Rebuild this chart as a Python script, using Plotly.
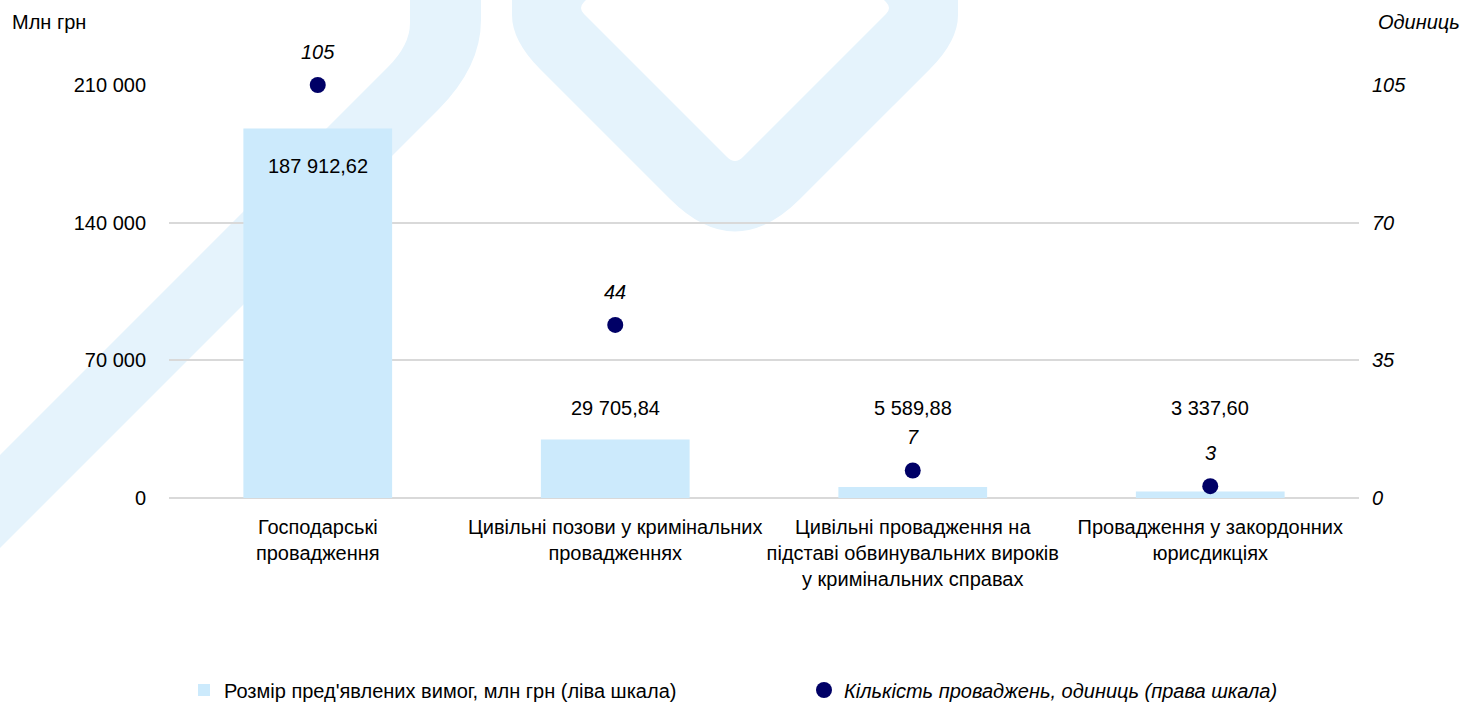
import plotly.graph_objects as go

# ---------------- data ----------------
categories = [
    "Господарські<br>провадження",
    "Цивільні позови у кримінальних<br>провадженнях",
    "Цивільні провадження на<br>підставі обвинувальних вироків<br>у кримінальних справах",
    "Провадження у закордонних<br>юрисдикціях",
]
claims_mln = [187912.62, 29705.84, 5589.88, 3337.60]
claims_labels = ["187 912,62", "29 705,84", "5 589,88", "3 337,60"]
counts = [105, 44, 7, 3]
left_ticks = [0, 70000, 140000, 210000]
right_ticks = [0, 35, 70, 105]
bar_name = "Розмір пред'явлених вимог, млн грн (ліва шкала)"
dot_name = "<i>Кількість проваджень, одиниць (права шкала)</i>"

# label placement (layout, not data)
claims_label_y = [169000, 45800, 45800, 45800]

# ---------------- style ----------------
W, H = 1469, 707
ML, MR, MT, MB = 169, 110, 85, 209
PW, PH = W - ML - MR, H - MT - MB
FONT = "Liberation Sans, Arial, sans-serif"
FS = 20
BAR_COLOR = "#CCEAFC"
DOT_COLOR = "#000066"
WM_COLOR = "#E5F3FC"
GRID = "#D9D9D9"


def px_x(x):
    return (x - ML) / PW


def px_y(y):
    return (MT + PH - y) / PH


def px_path(cmds):
    """Build a paper-referenced SVG path from pixel coordinates (decoration)."""
    out = []
    for c in cmds:
        letter, pts = c[0], c[1:]
        coords = [f"{px_x(x):.5f},{px_y(y):.5f}" for (x, y) in pts]
        out.append(letter + " " + " ".join(coords))
    return " ".join(out) + " Z"


# watermark shapes (background decoration)
band = px_path([
    ("M", (-100, 555)), ("L", (388, 67)), ("Q", (410, 45), (410, 23)),
    ("L", (410, -10)), ("L", (481, -10)), ("L", (481, 20)),
    ("Q", (481, 67), (438, 110)), ("L", (-100, 648)),
])
v_outer = px_path([
    ("M", (512, -10)), ("L", (512, 15)), ("Q", (512, 41), (540, 69)),
    ("L", (670, 199)), ("Q", (735, 264), (800, 199)), ("L", (930, 69)),
    ("Q", (958, 41), (958, 15)), ("L", (958, -10)),
])
v_inner = px_path([
    ("M", (596, -10)), ("L", (584, 2)), ("Q", (578, 8), (584, 14)),
    ("L", (727, 157)), ("Q", (735, 165), (743, 157)), ("L", (886, 14)),
    ("Q", (892, 8), (886, 2)), ("L", (874, -10)),
])

fig = go.Figure()
fig.add_trace(go.Bar(
    x=categories, y=claims_mln, name=bar_name,
    marker=dict(color=BAR_COLOR, line=dict(width=0)),
    yaxis="y", hoverinfo="skip", legend="legend",
))
fig.add_trace(go.Scatter(
    x=categories, y=counts, name=dot_name, mode="markers",
    marker=dict(color=DOT_COLOR, size=16),
    yaxis="y2", cliponaxis=False, hoverinfo="skip", legend="legend2",
))

annotations = []
for c, lab, ly in zip(categories, claims_labels, claims_label_y):
    annotations.append(dict(x=c, y=ly, xref="x", yref="y", text=lab,
                            showarrow=False, font=dict(size=FS, color="#000")))
for c, n in zip(categories, counts):
    annotations.append(dict(x=c, y=n, xref="x", yref="y2", text=str(n),
                            showarrow=False, yshift=33,
                            font=dict(size=FS, color="#000", style="italic")))
annotations.append(dict(x=px_x(10), y=px_y(22), xref="paper", yref="paper",
                        text="Млн грн", showarrow=False, xanchor="left", yanchor="middle",
                        font=dict(size=FS, color="#000")))
annotations.append(dict(x=px_x(1462), y=px_y(22), xref="paper", yref="paper",
                        text="Одиниць", showarrow=False, xanchor="right", yanchor="middle",
                        font=dict(size=FS, color="#000", style="italic")))

legend_common = dict(orientation="h", xanchor="left", yanchor="middle",
                     itemwidth=30, bgcolor="rgba(0,0,0,0)",
                     font=dict(size=FS, family=FONT, color="#000"))

fig.update_layout(
    width=W, height=H,
    margin=dict(l=ML, r=MR, t=MT, b=MB, pad=0, autoexpand=False),
    paper_bgcolor="white", plot_bgcolor="white",
    font=dict(family=FONT, size=FS, color="#000"),
    separators=", ",
    bargap=0.5,
    showlegend=True,
    legend=dict(x=px_x(184), y=px_y(690), **legend_common),
    legend2=dict(x=px_x(804), y=px_y(690), **legend_common),
    xaxis=dict(showgrid=False, showline=False, ticks="", ticklabelstandoff=15,
               tickangle=0, automargin=False, tickfont=dict(size=FS)),
    yaxis=dict(range=[0, 210000], tickvals=left_ticks, tickformat=",.0f",
               showgrid=True, gridcolor=GRID, gridwidth=2, zeroline=True,
               zerolinecolor=GRID, zerolinewidth=2, showline=False, ticks="",
               ticklabelstandoff=22, automargin=False, tickfont=dict(size=FS)),
    yaxis2=dict(range=[0, 105], tickvals=right_ticks, overlaying="y", side="right",
                showgrid=False, zeroline=False, showline=False, ticks="",
                ticklabelstandoff=12, automargin=False,
                tickfont=dict(size=FS, style="italic")),
    shapes=[
        dict(type="path", path=band, xref="paper", yref="paper", layer="below",
             fillcolor=WM_COLOR, line=dict(width=0)),
        dict(type="path", path=v_outer, xref="paper", yref="paper", layer="below",
             fillcolor=WM_COLOR, line=dict(width=0)),
        dict(type="path", path=v_inner, xref="paper", yref="paper", layer="below",
             fillcolor="white", line=dict(width=0)),
    ],
    annotations=annotations,
)

fig.write_html(
    "out.html",
    config={"displayModeBar": False},
    post_script="document.body.style.margin='0';document.body.style.overflow='hidden';",
)
